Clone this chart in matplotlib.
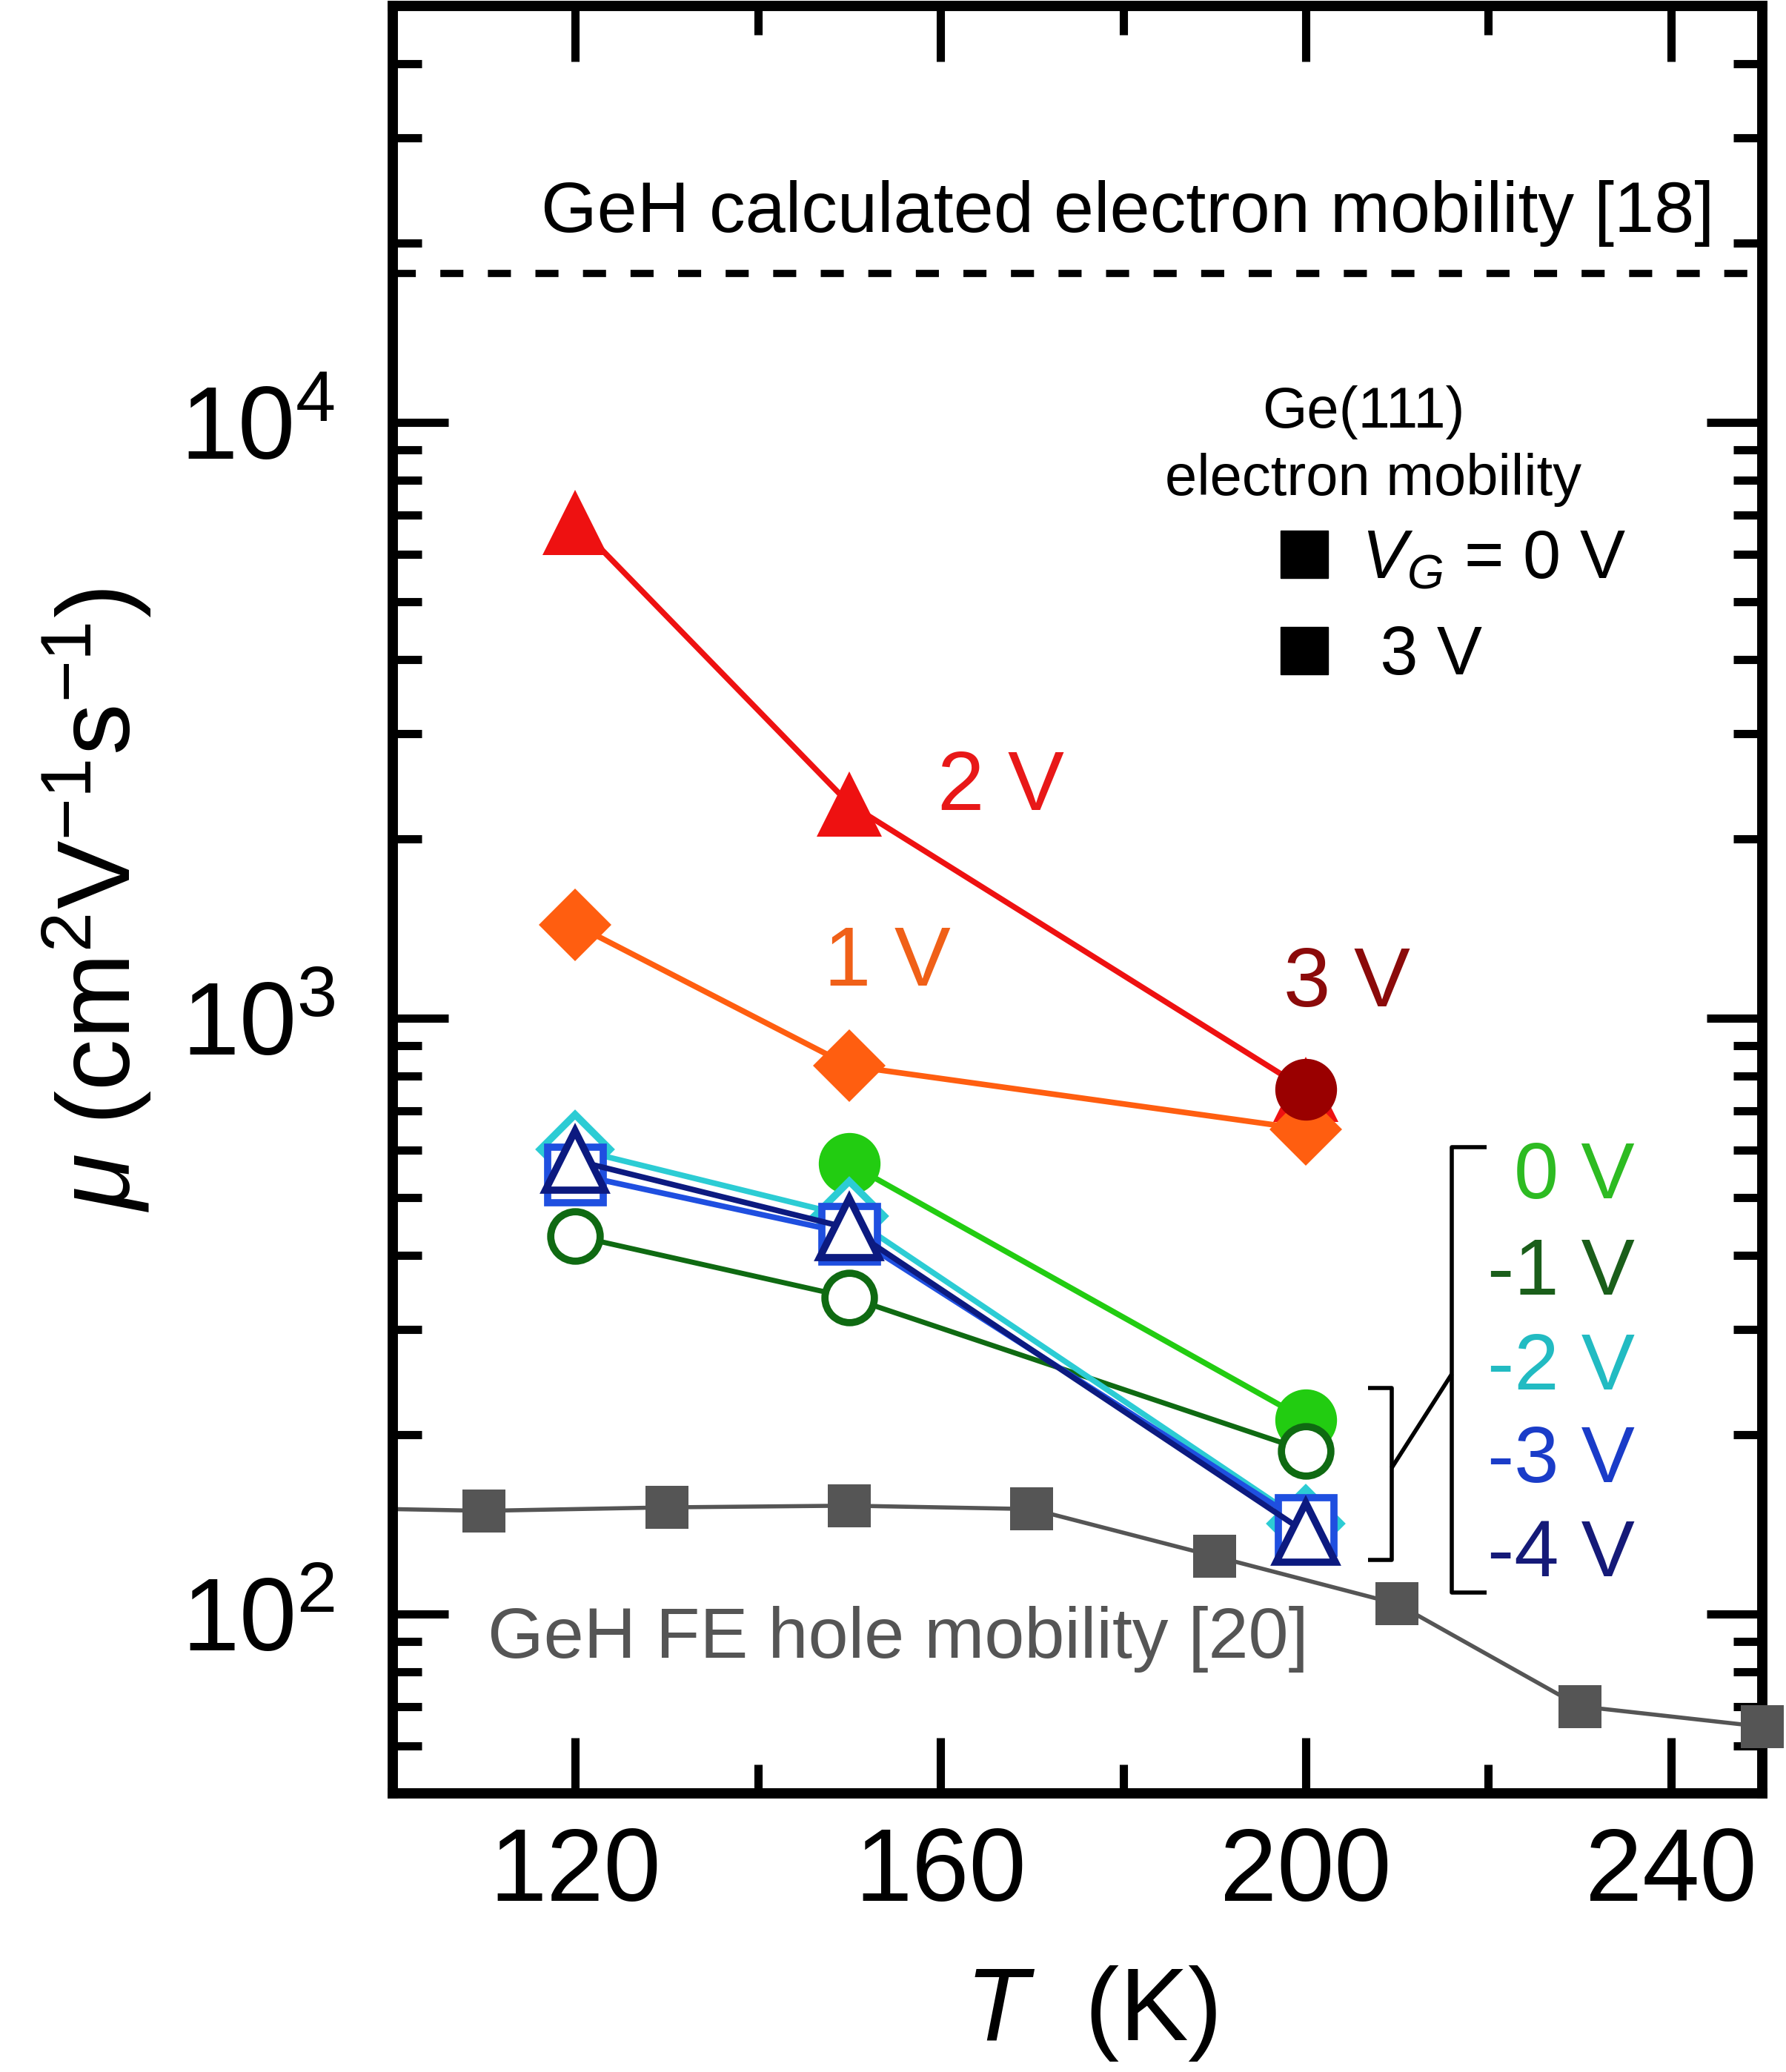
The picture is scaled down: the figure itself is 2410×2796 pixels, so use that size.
import numpy as np
import matplotlib
matplotlib.use('Agg')
import matplotlib.pyplot as plt
from matplotlib.lines import Line2D
from matplotlib.ticker import FixedLocator, LogLocator, NullFormatter

plt.rcParams['font.family'] = ['Liberation Sans', 'DejaVu Sans']
plt.rcParams['mathtext.fontset'] = 'custom'
plt.rcParams['mathtext.rm'] = 'Liberation Sans'
plt.rcParams['mathtext.it'] = 'Liberation Sans:italic'
plt.rcParams['mathtext.bf'] = 'Liberation Sans:bold'
plt.rcParams['mathtext.sf'] = 'Liberation Sans'

# ---------------- data ----------------
T_ge = [120, 150, 200]
mu_p2V = [6790, 2290, 759]
mu_p1V = [1435, 832, 651]
T_p3V = [200]
mu_p3V = [759]
T_0V = [150, 200]
mu_0V = [570, 212]
mu_m1V = [431, 340, 188]
mu_m2V = [603, 465, 142]
mu_m3V = [547, 435, 141]
mu_m4V = [577, 444, 137]

T_hole = [90, 110, 130, 150, 170, 190, 210, 230, 250]
mu_hole = [151, 149, 151, 152, 150, 125, 104, 70, 64.7]

mu_calc = 17800

x_ticks = [120, 160, 200, 240]
x_minor = [140, 180, 220]
y_ticks = [1e2, 1e3, 1e4]
y_ticklabels = [r'$\mathregular{10^{2}}$', r'$\mathregular{10^{3}}$', r'$\mathregular{10^{4}}$']

# ---------------- colours ----------------
c_red = '#EE1111'
c_orange = '#FF5E10'
c_darkred = '#9A0000'
c_green = '#22CC11'
c_dgreen = '#0F6A12'
c_cyan = '#2CCCD4'
c_blue = '#1F4FE0'
c_navy = '#0C1A80'
c_gray = '#555555'

W, H = 2410, 2796
fig = plt.figure(figsize=(W / 100, H / 100), dpi=100)
ax = fig.add_axes([530 / W, 1 - 2420 / H, 1848 / W, 2412 / H])

ax.set_yscale('log')
ax.set_xlim(100, 250)
ax.set_ylim(50, 5e4)

# hole mobility reference
ax.plot(T_hole, mu_hole, '-', color=c_gray, lw=4, zorder=2)
T_h = np.array(T_hole)
m_h = np.array(mu_hole)
sel = T_h >= 100
ax.plot(T_h[sel], m_h[sel], 's', color=c_gray, ms=42, mec=c_gray, mew=0,
        clip_on=False, zorder=3)

# calculated electron mobility
ax.axhline(mu_calc, color='black', lw=7, dashes=(3.2, 3.4), zorder=2)

lw = 5.5
ax.plot(T_ge, mu_p2V, '-^', color=c_red, lw=lw, ms=64, mew=0)
ax.plot(T_ge, mu_p1V, '-D', color=c_orange, lw=lw, ms=50, mew=0)
ax.plot(T_p3V, mu_p3V, 'o', color=c_darkred, ms=60, mew=0)
ax.plot(T_0V, mu_0V, '-o', color=c_green, lw=lw, ms=60, mew=0)
ax.plot(T_ge, mu_m1V, '-o', color=c_dgreen, lw=5, ms=48, mew=7, mfc='white')
ax.plot(T_ge, mu_m2V, '-D', color=c_cyan, lw=lw, ms=48, mew=7, mfc='white')
ax.plot(T_ge, mu_m3V, '-s', color=c_blue, lw=lw, ms=54, mew=7, mfc='white')
ax.plot(T_ge, mu_m4V, '-^', color=c_navy, lw=lw, ms=58, mew=7, mfc='white')

# ---------------- axes styling ----------------
for s in ax.spines.values():
    s.set_linewidth(10)
ax.xaxis.set_major_locator(FixedLocator(x_ticks))
ax.xaxis.set_minor_locator(FixedLocator(x_minor))
ax.yaxis.set_major_locator(FixedLocator(y_ticks))
ax.yaxis.set_minor_locator(LogLocator(base=10, subs=np.arange(2, 10)))
ax.yaxis.set_minor_formatter(NullFormatter())
ax.set_xticklabels([str(t) for t in x_ticks])
ax.set_yticklabels(y_ticklabels)
ax.tick_params(which='both', direction='in', top=True, right=True, width=8)
ax.tick_params(which='major', length=54, labelsize=100)
ax.tick_params(which='minor', length=28)
ax.tick_params(axis='x', which='major', pad=32)
ax.tick_params(axis='y', which='major', pad=56)

ax.set_ylabel(r'$\mu$ (cm$^{2}$V$^{-1}$s$^{-1}$)', fontsize=100)
ax.yaxis.set_label_coords(-0.1748, 0.5)
ax.set_xlabel(r'$T$  (K)', fontsize=100)
ax.xaxis.set_label_coords(0.51, -0.0954)

# ---------------- annotations ----------------
ax.text(116.2, 20900, 'GeH calculated electron mobility [18]', fontsize=70,
        ha='left', va='baseline', color='black')
ax.text(110.4, 84.4, 'GeH FE hole mobility [20]', fontsize=70,
        ha='left', va='baseline', color=c_gray)
ax.text(166.6, 2235, '2 V', fontsize=82, ha='center', va='baseline', color='#E81818')
ax.text(154.2, 1134, '1 V', fontsize=82, ha='center', va='baseline', color='#F06018')
ax.text(204.5, 1047, '3 V', fontsize=82, ha='center', va='baseline', color='#8B0A0A')

neg_labels = ['0 V', '-1 V', '-2 V', '-3 V', '-4 V']
neg_colors = ['#2DBB22', '#1A5E1A', '#22BBC2', '#1A3CC8', '#151A78']
neg_y = [499, 344, 238, 166.4, 115.7]
for lab, col, yy in zip(neg_labels, neg_colors, neg_y):
    ax.text(236.0, yy, lab, fontsize=78, ha='right', va='baseline', color=col)

# brackets
bk = dict(color='black', lw=4, solid_capstyle='butt', clip_on=False)
ax.plot([206.8, 209.4, 209.4, 206.8], [239.6, 239.6, 123.3, 123.3], **bk)
ax.plot([209.4, 216.0], [175.8, 252.9], **bk)
ax.plot([219.8, 216.0, 216.0, 219.8], [607.6, 607.6, 108.6, 108.6], **bk)

# legend block
ax.text(206.3, 9800, 'Ge(111)', fontsize=56, ha='center', va='baseline')
ax.text(207.4, 7550, 'electron mobility', fontsize=56, ha='center', va='baseline')
handles = [Line2D([], [], ls='none', marker='s', color='black', ms=46),
           Line2D([], [], ls='none', marker='s', color='black', ms=46)]
ax.legend(handles, [r'$V_G$ = 0 V', ' 3 V'], loc='upper left',
          bbox_to_anchor=(0.6456, 0.7075), frameon=False, fontsize=66,
          handlelength=0.8, handletextpad=0.44, borderpad=0, borderaxespad=0,
          labelspacing=0.47)

fig.savefig('out.png', dpi=100, facecolor='white')
